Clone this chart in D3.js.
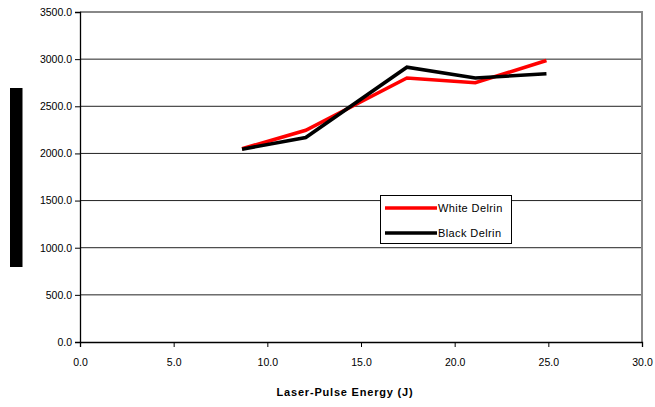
<!DOCTYPE html>
<html><head><meta charset="utf-8">
<script src="https://cdn.jsdelivr.net/npm/d3@7"></script>
<style>body{margin:0;background:#fff}svg{display:block;font-family:"Liberation Sans",Arial,sans-serif}</style>
</head><body><svg id="c" width="655" height="407"></svg>
<script>
const energy = [8.65, 12.05, 17.45, 21.1, 24.9];
const whiteDelrin = [2050, 2245, 2800, 2750, 2985];
const blackDelrin = [2045, 2168, 2915, 2800, 2845];
const xTicks = [0, 5, 10, 15, 20, 25, 30];
const yTicks = [0, 500, 1000, 1500, 2000, 2500, 3000, 3500];
const seriesNames = ["White Delrin", "Black Delrin"];
const seriesColors = ["#ff0000", "#000000"];

const svg = d3.select("#c");
const m = {l: 80, r: 642, t: 12, b: 342};
const x = d3.scaleLinear().domain([0, 30]).range([m.l, m.r]);
const y = d3.scaleLinear().domain([0, 3500]).range([m.b, m.t]);

// gridlines
svg.append("g").selectAll("line").data(yTicks.filter(d => d > 0 && d < 3500)).join("line")
  .attr("x1", m.l).attr("x2", m.r).attr("y1", d => y(d)).attr("y2", d => y(d))
  .attr("stroke", "#222").attr("stroke-width", 1);
// plot border top/right
svg.append("path").attr("d", `M${m.l},${m.t}H${m.r}V${m.b}`).attr("fill", "none")
  .attr("stroke", "#888").attr("stroke-width", 2);

const fmt = d3.format(".1f");
const yAxis = svg.append("g").attr("transform", `translate(${m.l},0)`)
  .call(d3.axisLeft(y).tickValues(yTicks).tickFormat(fmt).tickSize(5).tickPadding(3));
const xAxis = svg.append("g").attr("transform", `translate(0,${m.b})`)
  .call(d3.axisBottom(x).tickValues(xTicks).tickFormat(fmt).tickSize(5).tickPadding(12));
[yAxis, xAxis].forEach(a => {
  a.select(".domain").attr("stroke", "#000").attr("stroke-width", 1.3);
  a.selectAll(".tick line").attr("stroke", "#000");
  a.selectAll("text").attr("font-size", 10.5).attr("fill", "#000")
   .attr("font-family", "'Liberation Sans',Arial,sans-serif");
});

svg.append("text").attr("x", 345).attr("y", 396).attr("text-anchor", "middle")
  .attr("font-size", 11).attr("font-weight", "bold").attr("letter-spacing", 0.8)
  .text("Laser-Pulse Energy (J)");

// y axis label (blacked out in reference)
svg.append("rect").attr("x", 10).attr("y", 88).attr("width", 12.5).attr("height", 179).attr("fill", "#000");

const line = d3.line().x((d, i) => x(energy[i])).y(d => y(d));
[whiteDelrin, blackDelrin].forEach((s, i) => {
  svg.append("path").datum(s).attr("d", line).attr("fill", "none")
    .attr("stroke", seriesColors[i]).attr("stroke-width", 3.6).attr("stroke-linejoin", "miter");
});

// legend
const lg = svg.append("g");
lg.append("rect").attr("x", 380.5).attr("y", 195.5).attr("width", 131).attr("height", 48)
  .attr("fill", "#fff").attr("stroke", "#000").attr("stroke-width", 1);
seriesNames.forEach((n, i) => {
  const yy = 208 + i * 25;
  lg.append("line").attr("x1", 385).attr("x2", 437).attr("y1", yy).attr("y2", yy)
    .attr("stroke", seriesColors[i]).attr("stroke-width", 3.6);
  lg.append("text").attr("x", 438).attr("y", yy + 4).attr("font-size", 11)
    .attr("letter-spacing", 0.4).text(n);
});
</script></body></html>
